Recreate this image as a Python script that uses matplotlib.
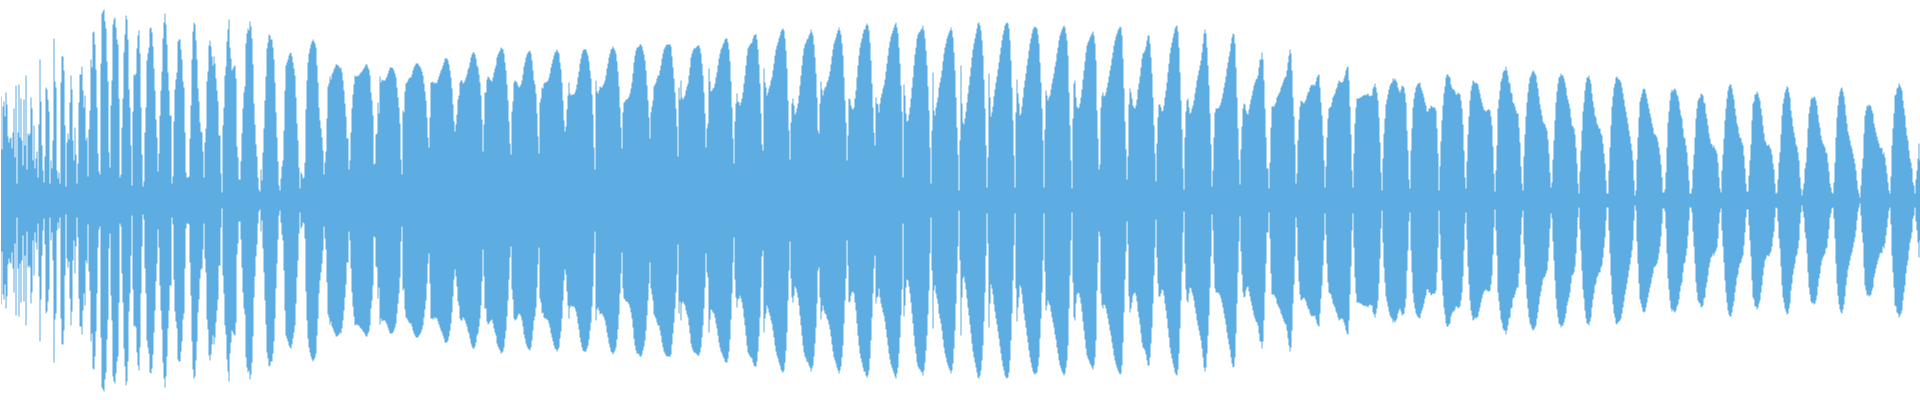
import numpy as np
import matplotlib
matplotlib.use("Agg")
import matplotlib.pyplot as plt

# === Data: waveform peak amplitude per column (mirrored around zero) ===

seg0 = [104, 51, 94, 99, 84, 108, 96, 64, 58, 62, 63, 52, 68, 92, 43, 115, 17, 68, 116, 63,
        102, 60, 35, 101, 55, 125, 31, 67, 65, 67, 103, 92, 40, 75, 32, 42, 49, 23, 76, 141,
        99, 55, 30, 18, 44, 113, 111, 101, 89, 17, 40, 32, 60, 162, 119, 113, 30, 22, 28, 17,
        118, 144, 144, 130, 75, 14, 58, 67, 61, 98, 125, 111, 60, 40, 73, 46, 17, 37, 98, 126,
        126, 134, 110, 93, 105, 60, 63, 24, 71, 90, 141, 133, 168, 169, 156, 131, 93, 47, 29, 26,
        137, 187, 189, 191, 179, 172, 139, 119, 48, 33, 95, 120, 176, 181, 183, 173, 161, 156, 102, 23,
        26, 73, 102, 148, 166, 185, 181, 161, 111, 93, 55, 15, 89, 126, 125, 127, 152, 165, 170, 147,
        93, 46, 14, 19, 68, 93, 140, 147, 153, 172, 173, 168, 154, 132, 110, 81, 63, 29, 47, 85,
        110, 129, 162, 178, 187, 176, 156, 128, 110, 85, 85, 17, 24, 79, 111, 121, 128, 159, 161, 161,
        151, 141, 119, 113, 68, 28, 23, 23, 24, 62, 95, 141, 169, 178, 176, 160, 141, 112, 99, 78,
        69, 68, 49, 23, 58, 72, 119, 129, 155, 160, 154, 144, 135, 144, 137, 122, 110, 99, 65, 65,
        27, 8, 75, 93, 125, 134, 159, 171, 181, 153, 142, 130, 132, 134, 135, 122, 54, 43, 21, 21]

seg1 = [39, 67, 92, 108, 114, 157, 167, 172, 170, 179, 174, 162, 136, 97, 76, 56, 44, 23, 11, 9,
        31, 20, 48, 72, 100, 124, 152, 158, 166, 165, 161, 161, 153, 141, 118, 88, 63, 39, 15, 10,
        22, 34, 40, 70, 110, 135, 138, 141, 145, 147, 148, 144, 138, 132, 125, 103, 77, 60, 33, 12,
        28, 26, 22, 23, 38, 91, 120, 138, 147, 152, 156, 159, 161, 159, 157, 153, 135, 118, 93, 80,
        72, 63, 50, 26, 38, 49, 82, 114, 117, 124, 121, 126, 128, 131, 133, 136, 136, 135, 134, 132,
        133, 128, 120, 110, 97, 84, 62, 62, 31, 40, 68, 92, 106, 116, 125, 124, 124, 125, 125, 127,
        128, 129, 131, 132, 134, 136, 136, 133, 131, 125, 108, 100, 85, 36, 37, 66, 67, 98, 87, 124,
        118, 121, 120, 120, 120, 122, 124, 127, 130, 133, 133, 133, 132, 130, 127, 123, 113, 103, 93, 77,
        41, 26, 90, 88, 109, 117, 118, 120, 122, 123, 123, 126, 130, 133, 135, 137, 137, 137, 135, 134,
        132, 129, 125, 117, 109, 100, 83, 63, 53, 83, 118, 118, 119, 117, 118, 117, 118, 121, 124, 127,
        130, 132, 135, 138, 142, 142, 142, 140, 136, 130, 123, 112, 96, 79, 69, 76, 86, 101, 105, 118,
        120, 120, 117, 118, 120, 123, 126, 131, 133, 138, 143, 146, 148, 148, 146, 142, 135, 133, 126, 118]

seg2 = [105, 81, 49, 76, 108, 108, 121, 124, 123, 121, 120, 119, 123, 128, 132, 135, 143, 146, 148, 150,
        153, 152, 151, 147, 138, 130, 116, 100, 79, 57, 46, 89, 99, 118, 120, 119, 118, 115, 113, 114,
        116, 120, 126, 134, 138, 143, 146, 148, 149, 150, 147, 140, 130, 120, 116, 107, 87, 64, 47, 98,
        102, 113, 112, 117, 118, 118, 119, 120, 123, 127, 133, 137, 141, 145, 148, 149, 151, 149, 147, 138,
        131, 118, 100, 80, 69, 74, 91, 105, 118, 107, 105, 106, 106, 106, 108, 111, 116, 123, 129, 137,
        142, 147, 150, 151, 151, 151, 148, 145, 139, 130, 122, 106, 86, 53, 31, 120, 109, 107, 110, 114,
        113, 113, 115, 117, 120, 125, 132, 137, 143, 147, 151, 152, 154, 152, 150, 147, 139, 129, 114, 93,
        73, 52, 88, 98, 99, 101, 101, 102, 104, 107, 112, 118, 127, 138, 145, 150, 153, 153, 154, 156,
        156, 154, 150, 146, 140, 130, 115, 100, 83, 62, 88, 94, 100, 114, 116, 118, 122, 125, 125, 130,
        135, 142, 147, 151, 153, 155, 156, 156, 156, 156, 154, 144, 133, 122, 108, 92, 74, 44, 113, 101,
        120, 103, 101, 103, 105, 110, 114, 117, 125, 133, 143, 147, 150, 152, 152, 153, 154, 155, 155, 152,
        147, 137, 125, 108, 87, 53, 72, 77, 132, 119, 109, 110, 112, 113, 117, 123, 128, 135, 142, 147]

seg3 = [151, 153, 156, 158, 161, 162, 162, 158, 151, 139, 119, 93, 62, 37, 79, 97, 107, 99, 98, 95,
        98, 102, 108, 117, 125, 135, 145, 152, 154, 156, 157, 158, 162, 165, 166, 166, 161, 151, 136, 117,
        87, 56, 50, 132, 118, 113, 105, 108, 112, 115, 120, 123, 130, 137, 145, 151, 155, 158, 162, 165,
        169, 171, 172, 170, 162, 150, 132, 100, 70, 41, 78, 97, 102, 95, 86, 88, 92, 97, 105, 115,
        125, 135, 145, 152, 156, 158, 161, 162, 165, 167, 171, 168, 165, 156, 143, 127, 103, 70, 67, 97,
        119, 111, 105, 110, 113, 114, 118, 120, 124, 129, 136, 144, 151, 157, 160, 163, 167, 170, 173, 170,
        166, 157, 145, 123, 100, 78, 40, 65, 102, 101, 95, 92, 91, 93, 102, 110, 123, 135, 145, 153,
        158, 162, 167, 171, 171, 175, 177, 175, 170, 158, 140, 117, 93, 68, 55, 103, 97, 96, 88, 97,
        103, 107, 112, 115, 121, 129, 137, 145, 153, 159, 164, 167, 170, 173, 176, 178, 173, 167, 153, 137,
        115, 89, 23, 116, 105, 87, 79, 80, 86, 93, 102, 113, 123, 135, 146, 153, 162, 166, 168, 169,
        171, 172, 175, 170, 162, 150, 135, 114, 90, 53, 17, 70, 128, 90, 85, 93, 98, 103, 113, 118,
        123, 130, 139, 147, 153, 157, 162, 165, 168, 170, 173, 170, 163, 148, 130, 103, 73, 46, 10, 60]

seg4 = [135, 97, 78, 76, 82, 89, 98, 107, 115, 124, 133, 143, 151, 157, 162, 167, 172, 177, 178, 175,
        170, 160, 145, 121, 92, 55, 13, 43, 127, 103, 84, 88, 94, 104, 111, 118, 124, 131, 138, 146,
        153, 160, 166, 170, 175, 177, 178, 177, 172, 160, 140, 113, 80, 45, 13, 88, 121, 107, 97, 85,
        87, 94, 103, 113, 120, 127, 135, 142, 150, 157, 162, 167, 171, 173, 174, 173, 172, 166, 157, 138,
        118, 92, 60, 13, 71, 110, 105, 100, 103, 105, 111, 117, 122, 127, 134, 139, 147, 153, 160, 165,
        168, 171, 173, 175, 173, 167, 160, 145, 108, 75, 40, 12, 82, 117, 120, 103, 94, 92, 93, 97,
        103, 111, 121, 130, 139, 148, 155, 158, 160, 163, 165, 167, 169, 165, 157, 140, 90, 62, 31, 36,
        93, 105, 108, 104, 105, 108, 113, 118, 124, 130, 135, 142, 148, 155, 160, 164, 167, 170, 172, 174,
        173, 165, 142, 112, 79, 51, 21, 44, 96, 112, 108, 102, 95, 93, 92, 95, 101, 111, 117, 124,
        133, 142, 147, 148, 150, 154, 160, 165, 165, 157, 143, 127, 103, 75, 47, 19, 57, 83, 96, 96,
        93, 89, 90, 95, 103, 110, 118, 128, 137, 147, 153, 158, 163, 167, 172, 174, 175, 169, 153, 128,
        100, 71, 32, 11, 63, 89, 100, 102, 93, 87, 88, 92, 95, 100, 107, 113, 120, 125, 130, 135]

seg5 = [140, 148, 157, 167, 171, 167, 153, 135, 115, 87, 56, 14, 30, 63, 88, 92, 92, 92, 93, 95,
        98, 102, 107, 113, 118, 124, 132, 138, 144, 149, 157, 163, 167, 166, 157, 133, 103, 72, 41, 16,
        51, 74, 92, 97, 96, 90, 87, 86, 91, 96, 101, 105, 110, 115, 118, 121, 122, 125, 133, 141,
        141, 148, 141, 120, 92, 63, 32, 32, 12, 38, 73, 94, 94, 94, 96, 98, 103, 105, 107, 109,
        113, 115, 118, 121, 123, 124, 130, 138, 145, 151, 147, 130, 103, 84, 56, 17, 27, 60, 81, 94,
        100, 99, 98, 97, 99, 101, 105, 108, 109, 113, 115, 116, 115, 116, 115, 119, 123, 125, 126, 113,
        98, 85, 65, 40, 13, 34, 63, 82, 92, 93, 94, 98, 103, 105, 107, 111, 113, 117, 120, 119,
        118, 118, 119, 122, 125, 130, 133, 134, 120, 94, 66, 30, 13, 47, 77, 93, 102, 102, 102, 103,
        103, 104, 105, 105, 106, 105, 106, 107, 105, 104, 105, 105, 112, 114, 117, 113, 108, 100, 83, 58,
        28, 10, 42, 67, 82, 96, 101, 106, 111, 115, 117, 118, 122, 120, 122, 120, 118, 113, 110, 108,
        111, 115, 114, 113, 107, 98, 70, 50, 21, 12, 50, 72, 93, 102, 108, 113, 115, 117, 117, 118,
        113, 110, 107, 103, 98, 95, 89, 89, 92, 92, 95, 94, 93, 93, 93, 90, 72, 47, 10, 34]

seg6 = [59, 80, 95, 107, 114, 123, 126, 126, 124, 123, 116, 113, 111, 111, 109, 106, 106, 108, 107, 106,
        100, 92, 76, 50, 23, 12, 39, 66, 84, 100, 110, 115, 120, 119, 117, 118, 117, 116, 111, 107,
        102, 98, 94, 91, 90, 89, 90, 91, 91, 90, 84, 75, 54, 27, 9, 30, 55, 92, 101, 110,
        119, 122, 128, 130, 130, 134, 130, 125, 118, 117, 108, 107, 98, 97, 94, 90, 87, 87, 73, 58,
        34, 17, 10, 44, 66, 84, 98, 108, 117, 123, 125, 128, 130, 129, 127, 125, 118, 112, 104, 96,
        91, 85, 79, 77, 76, 73, 70, 61, 47, 28, 13, 18, 41, 60, 80, 98, 109, 117, 123, 124,
        127, 125, 125, 122, 118, 113, 105, 101, 97, 92, 83, 75, 74, 72, 66, 53, 37, 17, 7, 29,
        50, 70, 89, 98, 110, 118, 123, 123, 125, 121, 117, 107, 99, 93, 85, 83, 77, 75, 72, 72,
        67, 65, 57, 47, 37, 20, 7, 7, 30, 53, 75, 94, 104, 113, 117, 123, 124, 122, 121, 120,
        118, 113, 107, 101, 94, 89, 83, 77, 70, 64, 57, 50, 40, 20, 5, 10, 41, 63, 83, 99,
        103, 107, 111, 112, 111, 107, 102, 97, 92, 87, 83, 77, 73, 67, 66, 65, 63, 59, 53, 46,
        36, 23, 8, 8, 11, 28, 53, 78, 89, 100, 108, 111, 109, 111, 112, 110, 106, 104, 99, 91]

seg7 = [85, 82, 72, 63, 62, 55, 48, 35, 20, 7, 7, 12, 31, 46, 63, 82, 92, 100, 102, 103,
        107, 106, 105, 98, 97, 87, 82, 75, 67, 62, 57, 56, 53, 55, 52, 50, 47, 38, 23, 12,
        8, 30, 46, 62, 80, 92, 102, 110, 114, 116, 116, 112, 106, 101, 92, 85, 77, 74, 67, 63,
        62, 58, 55, 45, 32, 17, 9, 9, 25, 40, 56, 80, 97, 99, 106, 106, 109, 107, 103, 100,
        92, 85, 75, 67, 60, 58, 55, 55, 56, 53, 51, 46, 37, 31, 17, 7, 8, 21, 38, 48,
        66, 85, 97, 102, 108, 111, 114, 113, 108, 103, 90, 83, 74, 68, 63, 56, 54, 48, 40, 23,
        12, 5, 11, 17, 32, 38, 53, 72, 87, 94, 101, 103, 102, 104, 103, 100, 95, 86, 78, 73,
        65, 60, 57, 55, 53, 48, 47, 38, 29, 17, 13, 8, 7, 18, 38, 63, 83, 95, 104, 109,
        112, 113, 109, 104, 96, 85, 77, 69, 65, 60, 55, 52, 47, 42, 37, 30, 20, 11, 7, 3,
        15, 32, 42, 67, 85, 90, 95, 94, 96, 95, 94, 90, 87, 77, 73, 68, 64, 60, 57, 53,
        52, 53, 46, 48, 43, 35, 27, 18, 10, 7, 24, 55, 72, 87, 105, 106, 112, 113, 117, 115,
        113, 110, 100, 92, 85, 73, 65, 60, 50, 42, 38, 32, 18, 15, 7, 21, 30, 42, 57, 40]

WAVE_COLOR = "#5DADE2"

# === Plot ===

amp = np.array(seg0 + seg1 + seg2 + seg3 + seg4 + seg5 + seg6 + seg7, dtype=float)
t = np.arange(len(amp))

fig = plt.figure(figsize=(19.2, 4), dpi=100)
ax = fig.add_axes([0, 0, 1, 1])
ax.fill_between(t, -amp, amp, step="mid", color=WAVE_COLOR, linewidth=0)
ax.set_xlim(-0.5, len(amp) - 0.5)
ax.set_ylim(-200, 200)
ax.axis("off")

fig.savefig("out.png", dpi=100, facecolor="white")
